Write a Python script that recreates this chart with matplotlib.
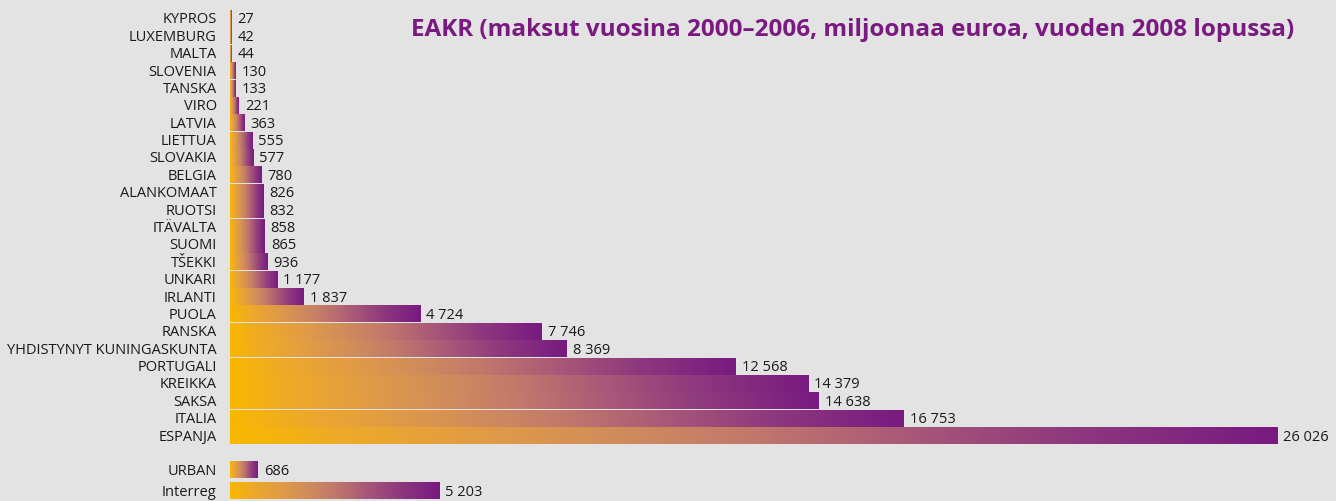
import numpy as np
import matplotlib
matplotlib.use("Agg")
import matplotlib.pyplot as plt
from matplotlib.colors import LinearSegmentedColormap

# Data
countries = ["KYPROS", "LUXEMBURG", "MALTA", "SLOVENIA", "TANSKA", "VIRO", "LATVIA",
             "LIETTUA", "SLOVAKIA", "BELGIA", "ALANKOMAAT", "RUOTSI", "ITÄVALTA",
             "SUOMI", "TŠEKKI", "UNKARI", "IRLANTI", "PUOLA", "RANSKA",
             "YHDISTYNYT KUNINGASKUNTA", "PORTUGALI", "KREIKKA", "SAKSA", "ITALIA",
             "ESPANJA"]
country_values = [27, 42, 44, 130, 133, 221, 363, 555, 577, 780, 826, 832, 858,
                  865, 936, 1177, 1837, 4724, 7746, 8369, 12568, 14379, 14638,
                  16753, 26026]
programmes = ["URBAN", "Interreg"]
programme_values = [686, 5203]

title = "EAKR (maksut vuosina 2000–2006, miljoonaa euroa, vuoden 2008 lopussa)"

bg = "#E3E3E3"
purple = "#7A1A80"
cmap = LinearSegmentedColormap.from_list(
    "eakr", [(0.0, "#F8B800"), (0.1, "#EFAA28"), (0.25, "#E09A48"),
             (0.4, "#CC8860"), (0.5, "#C0786C"), (0.65, "#A85878"),
             (0.8, "#8E3A7E"), (1.0, "#781A80")])


def fmt(v):
    return f"{v:,}".replace(",", " ")


labels = countries + programmes
values = country_values + programme_values
# rows: countries one per step, programmes after a gap
n = len(countries)
ypos = list(np.arange(n)) + [n + 0.96, n + 2.17]

fig = plt.figure(figsize=(13.36, 5.02), dpi=100)
fig.patch.set_facecolor(bg)
ax = fig.add_axes([230 / 1336, 0, 1 - 230 / 1336, 1])
ax.set_facecolor(bg)

grad = np.linspace(0, 1, 256).reshape(1, -1)
h = 0.93
for y, v, lab in zip(ypos, values, labels):
    ax.imshow(grad, cmap=cmap, aspect="auto", interpolation="bilinear",
              extent=(0, v, y + h / 2, y - h / 2), zorder=2)
    ax.text(v + 150, y, fmt(v), ha="left", va="center", fontsize=10.5,
            color="#1a1a1a", family="Open Sans")
    ax.text(-330, y, lab, ha="right", va="center", fontsize=10.5,
            color="#1a1a1a", family="Open Sans", clip_on=False)

ax.set_xlim(0, 27492)
ax.set_ylim(27.74, -1.15)
ax.axis("off")

fig.text(853 / 1336, 1 - 30 / 502, title, ha="center", va="center",
         fontsize=17.5, fontweight="bold", color=purple, family="Open Sans")

fig.savefig("out.png", dpi=100, facecolor=bg)
